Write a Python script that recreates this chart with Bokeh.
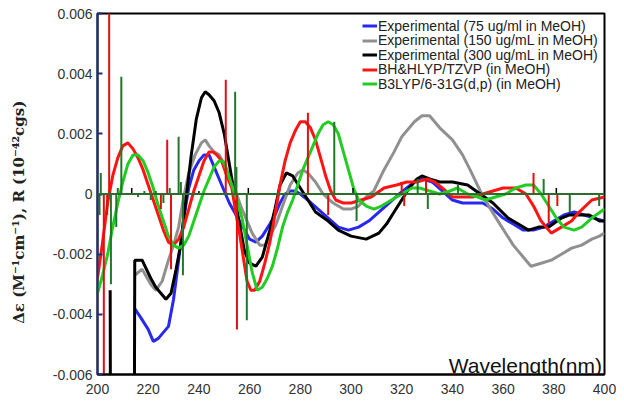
from bokeh.plotting import figure
from bokeh.models import Range1d, FixedTicker, NumeralTickFormatter, Legend, LegendItem, Span, Label
from bokeh.embed import file_html
from bokeh.resources import INLINE

# ---------------- data ----------------
x_ticks = [200, 220, 240, 260, 280, 300, 320, 340, 360, 380, 400]
y_ticks = [-0.006, -0.004, -0.002, 0.0, 0.002, 0.004, 0.006]
y_tick_labels = ["-0.006", "-0.004", "-0.002", "0", "0.002", "0.004", "0.006"]

names = ["Experimental (75 ug/ml in MeOH)", "Experimental (150 ug/mL in MeOH)",
         "Experimental (300 ug/mL in MeOH)", "BH&HLYP/TZVP (in MeOH)",
         "B3LYP/6-31G(d,p) (in MeOH)"]

blue_x = [214.6, 217, 220, 222, 224, 226, 228, 230, 232, 234, 236, 238, 240, 242, 244, 246, 248, 250,
          252, 254, 256, 258, 260, 262.5, 265, 268, 270, 272, 274, 276, 278, 280, 283, 287, 291, 295,
          299, 303, 307, 311, 315, 319, 322, 325, 328.5, 332, 336, 340, 344, 348, 352, 356, 360, 364,
          368, 372, 376, 380, 384, 388, 392, 396, 400]
blue_y = [-0.0038, -0.0041, -0.0045, -0.0049, -0.0048, -0.0046, -0.0044, -0.0035, -0.0022, -0.0008,
          0.0002, 0.0008, 0.0011, 0.0013, 0.0013, 0.0009, 0.0005, 0.0001, -0.0003, -0.0006, -0.0009,
          -0.0012, -0.0015, -0.0016, -0.0014, -0.0010, -0.0007, -0.0003, 0.0000, 0.0001, 0.0001, 0.0000,
          -0.0002, -0.0005, -0.0008, -0.0011, -0.0012, -0.0011, -0.0009, -0.0006, -0.0003, 0.0000,
          0.0002, 0.0004, 0.0005, 0.0004, 0.0001, -0.0002, -0.0003, -0.0003, -0.0003, -0.0005, -0.0008,
          -0.0010, -0.0012, -0.0012, -0.0011, -0.0009, -0.0007, -0.0006, -0.0007, -0.0008, -0.0009]

gray_x = [214.7, 217.6, 221, 223, 225.5, 228, 230, 232, 234, 236, 238.5, 241, 242.5, 244, 246, 248, 250,
          252, 254, 256.5, 258.5, 261, 264, 266, 268, 270.5, 273, 276, 279, 281, 283, 286, 289, 293,
          297, 300, 303, 306, 309, 313, 317, 320, 325, 328, 331, 335, 340, 344, 347, 351, 355, 358,
          364, 368, 371, 375, 379, 383, 387, 391, 395, 398, 400]
gray_y = [-0.0027, -0.0025, -0.0030, -0.0032, -0.0029, -0.0022, -0.0017, -0.0011, -0.0001, 0.0007,
          0.0013, 0.0017, 0.0018, 0.0016, 0.0014, 0.0013, 0.0010, 0.0006, 0.0002, -0.0004, -0.0008,
          -0.0013, -0.0017, -0.0017, -0.0014, -0.0010, -0.0004, 0.0003, 0.0007, 0.0008, 0.0007,
          0.0004, 0.0000, -0.0003, -0.0005, -0.0005, -0.0004, -0.0001, 0.0001, 0.0008, 0.0014, 0.0019,
          0.0024, 0.0026, 0.0026, 0.0022, 0.0018, 0.0013, 0.0008, 0.0001, -0.0005, -0.0009, -0.0017,
          -0.0021, -0.0024, -0.0023, -0.0022, -0.0020, -0.0018, -0.0017, -0.0015, -0.0014, -0.0013]

black_x = [205.0, 205.2, 214.4, 214.7, 217.6, 221, 223, 225, 227, 229, 231, 233, 235, 237, 239, 241,
           242.5, 244, 246, 248, 250, 252, 254, 256, 258, 260, 262.5, 265, 268, 270, 272, 274.5, 277,
           280, 283, 286, 291, 295, 300, 306, 311, 314, 317, 320, 323, 326, 328, 331, 335, 340, 346,
           351, 356, 362, 366, 370, 374, 378, 383, 386, 390, 394, 398, 400]
black_y = [-0.0032, -0.0120, -0.0120, -0.0022, -0.0022, -0.0028, -0.0031, -0.0033, -0.0035, -0.0033,
           -0.0025, -0.0016, -0.0001, 0.0013, 0.0025, 0.0032, 0.0034, 0.0033, 0.0031, 0.0027, 0.0020,
           0.0010, 0.0000, -0.0010, -0.0019, -0.0023, -0.0024, -0.0021, -0.0012, -0.0005, 0.0003,
           0.0007, 0.0006, 0.0002, -0.0002, -0.0006, -0.0009, -0.0012, -0.0014, -0.0015, -0.0013,
           -0.0010, -0.0006, -0.0002, 0.0002, 0.0005, 0.0006, 0.0005, 0.0004, 0.0004, 0.0003, 0.0000,
           -0.0003, -0.0008, -0.0010, -0.0012, -0.0011, -0.0011, -0.0008, -0.0007, -0.0007, -0.0007,
           -0.0009, -0.0009]

red_x = [200, 202, 204, 206, 208, 210, 212, 214, 216, 218, 220, 222, 224, 226, 228, 230, 232, 234, 236,
         238, 240, 242, 244, 245.5, 247, 249, 251, 253, 254.5, 256, 257.5, 259, 260.5, 262, 264, 266,
         268, 270, 272, 274, 276, 278, 280, 282, 284, 286, 288, 290, 292, 294, 297, 300, 304, 308, 313,
         318, 322, 326, 330, 333, 336, 340, 344, 348, 352, 356, 360, 365, 369, 372, 375, 379, 383, 387,
         390, 395, 400]
red_y = [-0.0028, -0.0016, -0.0003, 0.0006, 0.0012, 0.0016, 0.0017, 0.0015, 0.0012, 0.0008, 0.0003,
         -0.0002, -0.0007, -0.0012, -0.0016, -0.0017, -0.0015, -0.0011, -0.0005, 0.0001, 0.0006,
         0.0011, 0.0014, 0.0014, 0.0013, 0.0011, 0.0006, 0.0002, -0.0006, -0.0013, -0.0021, -0.0029,
         -0.0032, -0.0032, -0.0029, -0.0023, -0.0016, -0.0007, 0.0003, 0.0011, 0.0017, 0.0021, 0.0024,
         0.0024, 0.0022, 0.0018, 0.0012, 0.0006, 0.0001, -0.0002, -0.0003, -0.0003, -0.0002, -0.0001,
         0.0002, 0.0003, 0.0004, 0.0004, 0.0005, 0.0004, 0.0002, -0.0001, -0.0001, -0.0001, 0.0000,
         0.0001, 0.0002, 0.0002, 0.0000, -0.0004, -0.0009, -0.0013, -0.0011, -0.0009, -0.0006, -0.0002,
         -0.0001]

green_x = [200, 202, 204, 206, 208, 210, 212, 214, 216, 218, 220, 222, 224, 226, 228, 230, 232, 234, 236,
           238, 240, 242, 244, 246, 248, 249.5, 251, 253, 255, 257, 259, 261, 263, 265, 267, 269, 271,
           273, 275, 277, 279, 281, 283, 285, 287, 289, 291, 293, 295, 297, 299, 301, 303, 306, 309,
           312, 316, 320, 324, 327, 331, 335, 339, 342, 346, 350, 353, 357, 361, 365, 369, 372, 375,
           378, 381, 384, 388, 391, 395, 400]
green_y = [-0.0033, -0.0027, -0.0020, -0.0011, -0.0003, 0.0004, 0.0010, 0.0013, 0.0013, 0.0011, 0.0007,
           0.0002, -0.0004, -0.0009, -0.0014, -0.0017, -0.0018, -0.0017, -0.0014, -0.0009, -0.0004,
           0.0001, 0.0005, 0.0009, 0.0011, 0.0011, 0.0008, 0.0003, -0.0002, -0.0008, -0.0017, -0.0026,
           -0.0032, -0.0031, -0.0028, -0.0024, -0.0018, -0.0011, -0.0006, -0.0002, 0.0003, 0.0008,
           0.0012, 0.0016, 0.0020, 0.0023, 0.0024, 0.0023, 0.0020, 0.0014, 0.0008, 0.0002, -0.0002,
           -0.0004, -0.0005, -0.0004, -0.0002, 0.0000, 0.0002, 0.0002, 0.0001, 0.0000, 0.0001, 0.0002,
           0.0000, -0.0001, -0.0002, -0.0001, 0.0000, 0.0002, 0.0003, 0.0003, 0.0000, -0.0004, -0.0008,
           -0.0011, -0.0012, -0.0011, -0.0008, -0.0005]

# rotatory strengths (sticks)
red_stick_x = [202.5, 203.8, 204.6, 225.0, 227.5, 229.0, 250.6, 255.0, 283.0, 291.0, 320.0, 321.0,
               329.6, 372.0, 378.0, 381.4]
red_stick_y = [-0.0090, -0.0007, 0.0090, -0.0005, 0.0018, -0.0025, 0.0038, -0.0045, 0.0027, -0.0007,
               0.0004, -0.0004, 0.0005, 0.0007, -0.0010, -0.0004]

dkgreen_stick_x = [200.8, 201.3, 205.3, 207.4, 208.0, 209.4, 216.0, 218.5, 221.0, 223.0, 226.0, 228.5,
                   232.0, 232.9, 233.7, 254.3, 254.8, 258.9, 293.4, 302.2, 326.3, 330.3, 342.2,
                   376.0, 386.3, 397.9]
dkgreen_stick_y = [-0.0007, 0.0007, -0.0030, -0.0011, 0.0002, 0.0039, -0.0001, 0.0001, -0.0002,
                   0.0001, -0.0003, 0.0002, 0.0019, 0.0004, -0.0027, 0.0034, 0.0009, -0.0042,
                   0.0024, -0.0009, 0.0005, -0.0005, 0.0003, 0.0005, -0.0006, -0.0004]

black_stick_x = [213.5, 240.0, 259.5, 300.8, 381.0]
black_stick_y = [0.0002, 0.0001, 0.0002, 0.0002, 0.0002]

# ---------------- figure ----------------
p = figure(width=616, height=403, output_backend="svg", toolbar_location=None,
           x_range=Range1d(200, 400), y_range=Range1d(-0.006, 0.006),
           min_border_left=97, min_border_right=12, min_border_top=13, min_border_bottom=29)
p.background_fill_color = "white"
p.border_fill_color = "white"
p.outline_line_color = "black"
p.outline_line_width = 2
p.grid.visible = False

FONT = "Liberation Sans"
TICK_COLOR = "#333333"

# x axis
xa = p.xaxis[0]
xa.ticker = FixedTicker(ticks=x_ticks)
xa.axis_line_color = "black"
xa.axis_line_width = 2
xa.major_tick_in = 0
xa.major_tick_out = 0
xa.minor_tick_line_color = None
xa.major_label_text_font = FONT
xa.major_label_text_font_size = "14px"
xa.major_label_text_color = TICK_COLOR
xa.major_label_standoff = 9

# y axis
ya = p.yaxis[0]
ya.ticker = FixedTicker(ticks=y_ticks)
ya.formatter = NumeralTickFormatter(format="0.000")
ya.major_label_overrides = {t: s for t, s in zip(y_ticks, y_tick_labels)}
ya.axis_line_color = "#1F2F78"
ya.axis_line_width = 2
ya.major_tick_line_color = "#1F2F78"
ya.major_tick_line_width = 2
ya.major_tick_in = 5
ya.major_tick_out = 0
ya.minor_tick_line_color = None
ya.major_label_text_font = FONT
ya.major_label_text_font_size = "14px"
ya.major_label_text_color = TICK_COLOR
ya.major_label_standoff = 5
# trailing no-break spaces push the (centred) label a little lower, as in the reference
ya.axis_label = "Δε (M⁻¹cm⁻¹), R (10⁻⁴²cgs)" + "\u00a0" * 7
ya.axis_label_text_font = "DejaVu Serif"
ya.axis_label_text_font_style = "bold"
ya.axis_label_text_font_size = "15px"
ya.axis_label_text_color = "#222222"
ya.axis_label_standoff = 22

# curves
r_blue = p.line(blue_x, blue_y, line_color="#2828F0", line_width=3)
r_gray = p.line(gray_x, gray_y, line_color="#909090", line_width=3)
r_black = p.line(black_x, black_y, line_color="black", line_width=3)
r_red = p.line(red_x, red_y, line_color="#FF1414", line_width=3)
r_green = p.line(green_x, green_y, line_color="#22CC22", line_width=3)

# sticks
p.segment(x0=red_stick_x, y0=[0] * len(red_stick_x), x1=red_stick_x, y1=red_stick_y,
          line_color="#E01010", line_width=2)
p.segment(x0=dkgreen_stick_x, y0=[0] * len(dkgreen_stick_x), x1=dkgreen_stick_x, y1=dkgreen_stick_y,
          line_color="#22772A", line_width=2)
p.segment(x0=black_stick_x, y0=[0] * len(black_stick_x), x1=black_stick_x, y1=black_stick_y,
          line_color="black", line_width=1.5)

p.add_layout(Span(location=0, dimension="width", line_color="#2E6B2E", line_width=2))

p.add_layout(Label(x=399, y=-0.0057, text="Wavelength(nm)", text_align="right",
                   text_baseline="alphabetic", text_font=FONT, text_font_size="21px",
                   text_color="#111111"))

# legend: one entry per row, rows 14.5 px apart (tighter than a single Legend allows)
ROW_H = 17
for i, (n, r) in enumerate(zip(names, [r_blue, r_gray, r_black, r_red, r_green])):
    leg = Legend(items=[LegendItem(label=n, renderers=[r])],
                 location=(265, 361 - (12.5 + 14.5 * i) - ROW_H / 2), margin=0, padding=0, spacing=0,
                 glyph_width=15, glyph_height=ROW_H, label_height=ROW_H, label_standoff=1,
                 label_text_font=FONT, label_text_font_size="14px", label_text_color="#222222",
                 background_fill_alpha=0, border_line_alpha=0)
    p.add_layout(leg)

open("out.html", "w").write(file_html(p, INLINE))
